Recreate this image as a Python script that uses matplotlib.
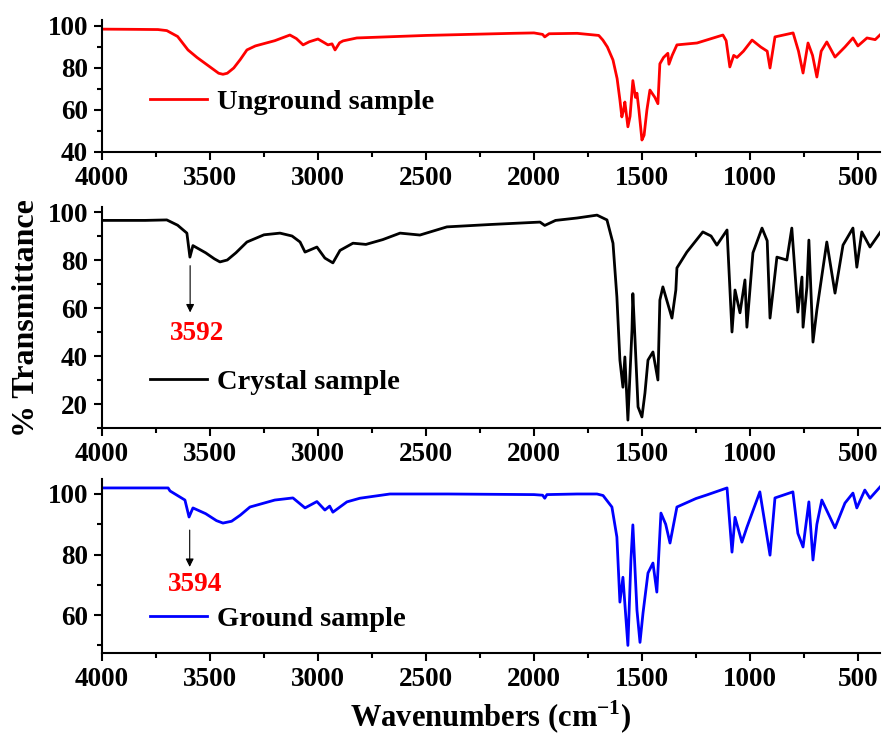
import numpy as np
import matplotlib
matplotlib.use("Agg")
import matplotlib.pyplot as plt
from matplotlib.ticker import MultipleLocator

plt.rcParams['font.family'] = ['Liberation Serif', 'DejaVu Serif']
plt.rcParams['font.weight'] = 'bold'

# ---- data ----
wn_unground = [4000, 3850, 3741, 3700, 3650, 3620, 3602, 3560, 3500, 3460, 3440, 3420, 3390, 3360, 3329,
               3290, 3200, 3130, 3100, 3069, 3040, 3000, 2970, 2954, 2935, 2921, 2900, 2884, 2820,
               2500, 2100, 2000, 1960, 1950, 1930, 1800, 1700, 1681, 1660, 1634, 1615, 1602,
               1593, 1585, 1579, 1565, 1555, 1542, 1530, 1523, 1514, 1500, 1490, 1477, 1463, 1440,
               1426, 1417, 1400, 1380, 1375, 1360, 1338, 1245, 1125, 1110, 1093, 1075, 1060, 1030,
               990, 950, 920, 907, 884, 800, 775, 754, 731, 710, 690, 670, 644, 606, 560, 523, 500,
               458, 420, 398]
t_unground = [98.5, 98.4, 98.3, 97.8, 95, 91, 88.6, 85, 80.5, 77.5, 77, 77.5, 80, 84, 88.6,
              90.5, 93, 95.7, 94, 91, 92.5, 93.8, 92, 91, 91.5, 88.6, 92, 92.9, 94.3,
              95.5, 96.5, 96.7, 96, 94.8, 96.3, 96.5, 95.5, 93.3, 90, 83.8, 75, 64.8,
              56.7, 60, 63.8, 52, 57, 74, 66, 68, 60, 45.7, 48, 60, 69.5, 66,
              63, 82, 85, 87, 81.8, 86, 91, 91.9, 95.7, 93, 80.5, 86, 85, 88,
              93.3, 90, 88, 80, 94.8, 96.7, 88, 77.6, 91.9, 86, 75.7, 88, 92.4, 85.2, 90, 94.3, 90.5,
              94.3, 93.5, 95.7]

wn_crystal = [4000, 3800, 3700, 3650, 3607, 3593, 3579, 3520, 3480, 3454, 3420, 3380, 3329, 3250, 3176,
              3120, 3083, 3060, 3005, 2968, 2931, 2898, 2838, 2778, 2700, 2620, 2528, 2403, 2200,
              1972, 1950, 1900, 1800, 1708, 1662, 1634, 1616, 1602, 1588, 1579, 1565, 1546, 1542,
              1532, 1518, 1500, 1486, 1472, 1449, 1426, 1417, 1403, 1361, 1343, 1338, 1292, 1218,
              1180, 1153, 1106, 1083, 1069, 1046, 1023, 1014, 986, 944, 920, 907, 875, 829, 806,
              778, 759, 754, 736, 727, 708, 690, 644, 606, 569, 523, 505, 482, 444, 389]
t_crystal = [96.5, 96.5, 96.7, 94.5, 91.2, 81.2, 86, 83, 80.5, 79.2, 80, 83, 87.5, 90.5, 91.2,
             90, 87.5, 83.3, 85.4, 80.8, 78.8, 84, 87, 86.5, 88.5, 91.2, 90.4, 93.8, 94.8,
             95.8, 94.4, 96.5, 97.5, 98.7, 96.7, 87, 64.6, 38.3, 27, 39.6, 13.3, 51, 66,
             46.7, 18.8, 14.6, 24.6, 38.3, 41.7, 30, 63.3, 68.8, 55.8, 67.5, 76.7, 83.3, 91.7,
             90, 86.2, 92.5, 50, 67.5, 58, 71.7, 52, 83, 93.3, 88, 55.8, 81.2, 80, 93.3,
             58.3, 72.9, 52, 68.8, 88.3, 45.8, 59.2, 87.5, 66.2, 86.2, 93.3, 77, 91.7, 85.4, 92.5]

wn_ground = [4000, 3800, 3694, 3685, 3616, 3597, 3579, 3520, 3470, 3440, 3400, 3360, 3315, 3200, 3116,
             3060, 3005, 2968, 2946, 2931, 2866, 2806, 2667, 2400, 2000, 1960, 1950, 1940, 1800,
             1708, 1680, 1639, 1616, 1602, 1588, 1565, 1551, 1542, 1523, 1509, 1495, 1472, 1449,
             1431, 1412, 1390, 1370, 1338, 1250, 1199, 1106, 1083, 1069, 1037, 1014, 954, 907,
             884, 801, 778, 754, 727, 708, 690, 667, 606, 560, 523, 505, 468, 444, 389]
t_ground = [102, 102, 102, 101, 98, 92.4, 95.4, 93.5, 91.2, 90.4, 91, 93, 95.7, 98, 98.7,
            95.4, 97.5, 94.7, 96, 94, 97.4, 98.6, 100, 100, 99.8, 99.6, 98.6, 99.8, 100,
            100, 99.5, 95.7, 85.8, 64.3, 72.5, 50, 78.2, 89.8, 61.6, 51, 60.7, 73.9, 77.2,
            67.6, 93.7, 90, 83.8, 95.7, 98.5, 99.7, 102, 80.8, 92.3, 84.1, 89, 100.7, 79.8,
            98.7, 100.7, 87, 82.5, 97.4, 78.2, 90, 98, 88.8, 97, 100.3, 95.4, 101.3, 98.6, 103]

labels = ['Unground sample', 'Crystal sample', 'Ground sample']
colors = ['#ff0000', 'black', '#0000ff']
ylims = [(40, 103), (10, 102), (47.5, 105)]
yticks = [[40, 60, 80, 100], [20, 40, 60, 80, 100], [60, 80, 100]]
legend_y = [63.8, 29, 58.7]
peaks = [None, (3592, 78.8, 57, 3560, 49.5), (3594, 89, 75, 3570, 70)]

fig = plt.figure(figsize=(8.84, 7.4), dpi=100)
# axes rectangles (left, bottom, width, height) in figure fraction
rects = [(0.1154, 0.7946, 0.880, 0.1788),
         (0.1154, 0.4216, 0.880, 0.2984),
         (0.1154, 0.1176, 0.880, 0.2353)]
data = [(wn_unground, t_unground), (wn_crystal, t_crystal), (wn_ground, t_ground)]

for i in range(3):
    ax = fig.add_axes(rects[i])
    x, y = data[i]
    ax.plot(x, y, color=colors[i], lw=2, label=labels[i])
    ax.set_xlim(4000, 398)
    ax.set_ylim(*ylims[i])
    ax.set_yticks(yticks[i])
    ax.xaxis.set_major_locator(MultipleLocator(500))
    ax.xaxis.set_minor_locator(MultipleLocator(250))
    ax.yaxis.set_minor_locator(MultipleLocator(10))
    for s in ['top', 'right']:
        ax.spines[s].set_visible(False)
    for s in ['left', 'bottom']:
        ax.spines[s].set_linewidth(1.5)
    ax.tick_params(which='major', direction='out', length=6, width=1.5, labelsize=19.5, pad=4)
    ax.tick_params(which='minor', direction='out', length=3.5, width=1.5)
    ax.legend(loc='center left', bbox_to_anchor=(0.062, (legend_y[i] - ylims[i][0]) / (ylims[i][1] - ylims[i][0])),
              frameon=False, fontsize=20.5, handlelength=2.0, handletextpad=0.35,
              borderpad=0, borderaxespad=0)
    if peaks[i] is not None:
        px, y0, y1, tx, ty = peaks[i]
        ax.annotate('', xy=(px, y1), xytext=(px, y0),
                    arrowprops=dict(arrowstyle='-|>', color='black', lw=0.8, mutation_scale=12))
        ax.text(tx, ty, str(px), color='#ff0000', fontsize=19.5, fontweight='bold',
                ha='center', va='center')

fig.text(0.03, 0.57, '% Transmittance', rotation=90, fontsize=23, fontweight='bold',
         ha='center', va='center')
fig.text(0.555, 0.03, 'Wavenumbers (cm$^{\\mathregular{-1}}$)', fontsize=22, fontweight='bold',
         ha='center', va='center')

fig.savefig('out.png', dpi=100)
